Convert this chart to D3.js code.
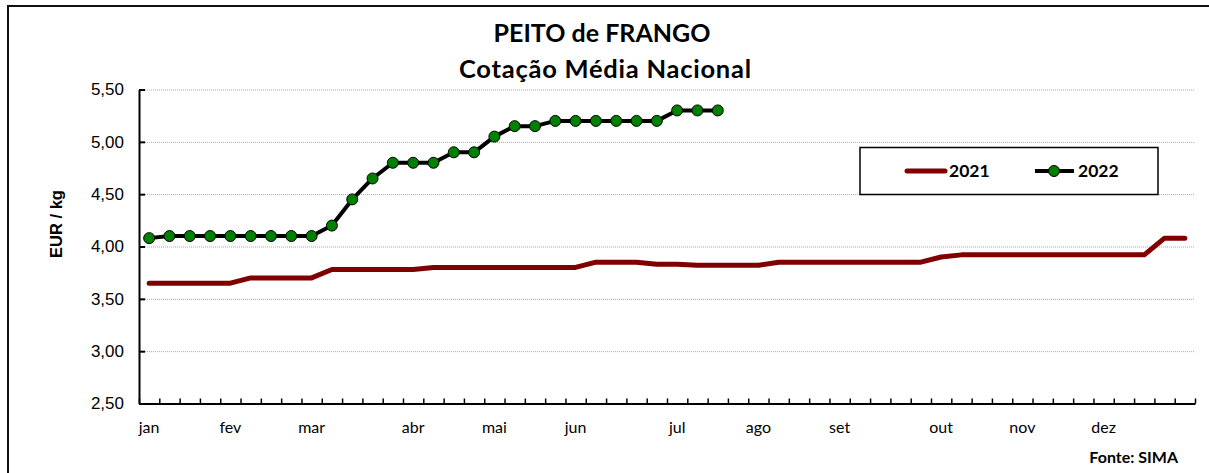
<!DOCTYPE html>
<html>
<head>
<meta charset="utf-8">
<script src="https://cdn.jsdelivr.net/npm/d3@7"></script>
<style>
  body { margin: 0; background: #fff; }
  svg { display: block; }
</style>
</head>
<body>
<svg id="chart" width="1209" height="473"></svg>
<script>
// weekly national average price, EUR/kg
const weeks = d3.range(52);
const monthLabels = ['jan', 'fev', 'mar', 'abr', 'mai', 'jun', 'jul', 'ago', 'set', 'out', 'nov', 'dez'];
const monthWeeks = [0, 4, 8, 13, 17, 21, 26, 30, 34, 39, 43, 47];
const yTicks = [2.5, 3.0, 3.5, 4.0, 4.5, 5.0, 5.5];

const values2021 = [
  3.65, 3.65, 3.65, 3.65, 3.65, 3.70, 3.70, 3.70, 3.70, 3.78,
  3.78, 3.78, 3.78, 3.78, 3.80, 3.80, 3.80, 3.80, 3.80, 3.80,
  3.80, 3.80, 3.85, 3.85, 3.85, 3.83, 3.83, 3.82, 3.82, 3.82,
  3.82, 3.85, 3.85, 3.85, 3.85, 3.85, 3.85, 3.85, 3.85, 3.90,
  3.92, 3.92, 3.92, 3.92, 3.92, 3.92, 3.92, 3.92, 3.92, 3.92,
  4.08, 4.08,
];
const values2022 = [
  4.08, 4.10, 4.10, 4.10, 4.10, 4.10, 4.10, 4.10, 4.10, 4.20,
  4.45, 4.65, 4.80, 4.80, 4.80, 4.90, 4.90, 5.05, 5.15, 5.15,
  5.20, 5.20, 5.20, 5.20, 5.20, 5.20, 5.30, 5.30, 5.30,
];

const svg = d3.select('#chart');
const plotLeft = 139, plotRight = 1195, plotTop = 89.5, plotBottom = 403.5;
const calibri = 'Lato, "Open Sans", sans-serif';
const arial = '"Liberation Sans", Arial, sans-serif';

// outer frame
svg.append('rect')
  .attr('x', 8).attr('y', 6)
  .attr('width', 1220).attr('height', 480)
  .attr('fill', '#fff')
  .attr('stroke', '#111')
  .attr('stroke-width', 2);

const x = d3.scaleBand().domain(weeks).range([plotLeft, plotRight]).padding(0);
const xEdge = d3.scaleLinear().domain([0, 52]).range([plotLeft, plotRight]);
const y = d3.scaleLinear().domain([2.5, 5.5]).range([plotBottom, plotTop]);
const cx = (i) => x(i) + x.bandwidth() / 2;

// gridlines
svg.append('g')
  .attr('transform', `translate(${plotLeft},0)`)
  .call(d3.axisLeft(y).tickValues(yTicks.slice(1)).tickSize(-(plotRight - plotLeft)).tickFormat(''))
  .call((g) => g.select('.domain').remove())
  .call((g) => g.selectAll('line')
    .attr('stroke', '#a8a8a8')
    .attr('stroke-width', 1)
    .attr('stroke-dasharray', '1,1'));

// y axis
const yAxis = svg.append('g')
  .attr('transform', `translate(${plotLeft},0)`)
  .call(d3.axisLeft(y).tickValues(yTicks).tickSizeInner(-6).tickSizeOuter(0)
    .tickPadding(15)
    .tickFormat((d) => d3.format('.2f')(d).replace('.', ',')));
yAxis.attr('font-size', null);
yAxis.select('.domain').attr('stroke', '#000').attr('stroke-width', 2);
yAxis.selectAll('line').attr('stroke', '#000').attr('stroke-width', 2);
yAxis.selectAll('text')
  .attr('font-family', arial)
  .attr('font-size', 17)
  .attr('fill', '#000');

// x axis
const xAxis = svg.append('g')
  .attr('transform', `translate(0,${plotBottom})`)
  .call(d3.axisBottom(xEdge).tickValues(d3.range(53)).tickSizeInner(-5).tickSizeOuter(0).tickFormat(''));
xAxis.select('.domain').attr('stroke', '#000').attr('stroke-width', 2);
xAxis.selectAll('line').attr('stroke', '#000').attr('stroke-width', 1.5);

svg.append('g')
  .selectAll('text')
  .data(monthWeeks)
  .join('text')
  .attr('x', (d) => cx(d))
  .attr('y', 433)
  .attr('text-anchor', 'middle')
  .attr('font-family', calibri)
  .attr('font-size', 16)
  .attr('fill', '#000')
  .text((d, i) => monthLabels[i]);

// series
const line = (vals) => d3.line().x((d, i) => cx(i)).y((d) => y(d))(vals);

svg.append('path')
  .attr('d', line(values2021))
  .attr('fill', 'none')
  .attr('stroke', '#800000')
  .attr('stroke-width', 5)
  .attr('stroke-linecap', 'round')
  .attr('stroke-linejoin', 'round');

svg.append('path')
  .attr('d', line(values2022))
  .attr('fill', 'none')
  .attr('stroke', '#000')
  .attr('stroke-width', 4)
  .attr('stroke-linejoin', 'round');

svg.append('g')
  .selectAll('circle')
  .data(values2022)
  .join('circle')
  .attr('cx', (d, i) => cx(i))
  .attr('cy', (d) => y(d))
  .attr('r', 5.5)
  .attr('fill', '#008000')
  .attr('stroke', '#000')
  .attr('stroke-width', 1);

// titles
svg.append('text')
  .attr('x', 602).attr('y', 42)
  .attr('text-anchor', 'middle')
  .attr('font-family', calibri)
  .attr('font-weight', 'bold')
  .attr('font-size', 25)
  .text('PEITO de FRANGO');
svg.append('text')
  .attr('x', 605).attr('y', 78)
  .attr('text-anchor', 'middle')
  .attr('font-family', calibri)
  .attr('font-weight', 'bold')
  .attr('font-size', 25.5)
  .attr('textLength', 292)
  .attr('lengthAdjust', 'spacing')
  .text('Cotação Média Nacional');

svg.append('text')
  .attr('transform', 'translate(62,224) rotate(-90)')
  .attr('text-anchor', 'middle')
  .attr('font-family', arial)
  .attr('font-weight', 'bold')
  .attr('font-size', 16.5)
  .text('EUR / kg');

svg.append('text')
  .attr('x', 1178).attr('y', 463)
  .attr('text-anchor', 'end')
  .attr('font-family', calibri)
  .attr('font-weight', 'bold')
  .attr('font-size', 16)
  .text('Fonte: SIMA');

// legend
const legend = svg.append('g');
legend.append('rect')
  .attr('x', 860).attr('y', 147.5)
  .attr('width', 298).attr('height', 47)
  .attr('fill', '#fff')
  .attr('stroke', '#000')
  .attr('stroke-width', 1.5);
legend.append('line')
  .attr('x1', 907).attr('x2', 945).attr('y1', 171).attr('y2', 171)
  .attr('stroke', '#800000').attr('stroke-width', 5).attr('stroke-linecap', 'round');
legend.append('text')
  .attr('x', 949).attr('y', 177)
  .attr('font-family', calibri).attr('font-weight', 'bold').attr('font-size', 17.5)
  .text('2021');
legend.append('line')
  .attr('x1', 1035).attr('x2', 1074).attr('y1', 171).attr('y2', 171)
  .attr('stroke', '#000').attr('stroke-width', 4);
legend.append('circle')
  .attr('cx', 1054).attr('cy', 171).attr('r', 5.5)
  .attr('fill', '#008000').attr('stroke', '#000');
legend.append('text')
  .attr('x', 1078).attr('y', 177)
  .attr('font-family', calibri).attr('font-weight', 'bold').attr('font-size', 17.5)
  .text('2022');
</script>
</body>
</html>
